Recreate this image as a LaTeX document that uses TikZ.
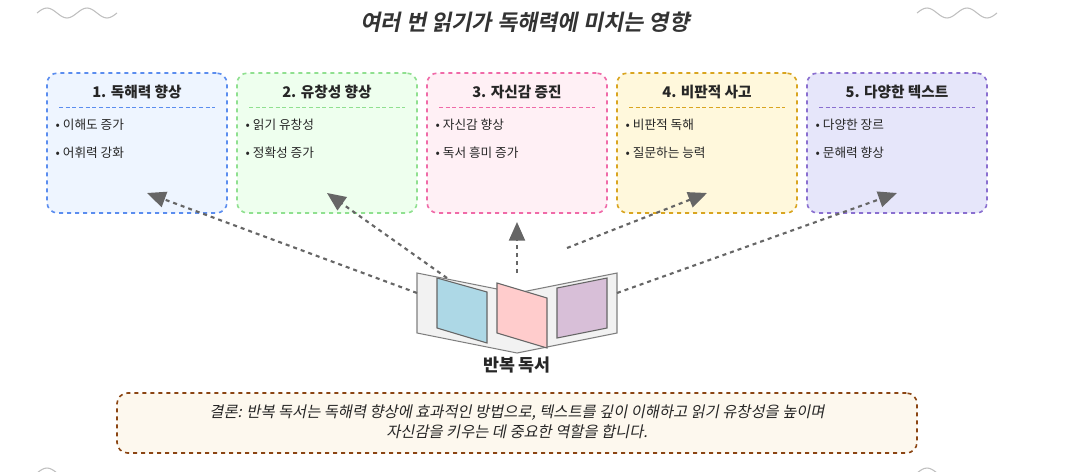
\documentclass[tikz,border=0pt]{standalone}
\usepackage{fontspec}
\setmainfont{Noto Sans CJK KR}
\newfontfamily\kri[FakeSlant=0.2]{Noto Sans CJK KR}
\newfontfamily\krbi[FakeSlant=0.2,BoldFont=*]{Noto Sans CJK KR Bold}
\usetikzlibrary{arrows.meta}
\definecolor{b1}{HTML}{5B8DEF}\definecolor{f1}{HTML}{EEF5FF}
\definecolor{b2}{HTML}{90E090}\definecolor{f2}{HTML}{EEFFEE}
\definecolor{b3}{HTML}{F06AA8}\definecolor{f3}{HTML}{FFF0F5}
\definecolor{b4}{HTML}{D9A520}\definecolor{f4}{HTML}{FFF8DC}
\definecolor{b5}{HTML}{8A6FD0}\definecolor{f5}{HTML}{E6E6FA}
\definecolor{cb}{HTML}{8B4513}\definecolor{cf}{HTML}{FDF8EE}
\tikzset{
 card/.style={draw=#1,dashed,line width=1.2pt,rounded corners=8pt,minimum width=135pt,minimum height=105pt},
 ttl/.style={font=\fontsize{11}{13}\selectfont\bfseries,text=black!85},
 itm/.style={font=\fontsize{9.5}{11}\selectfont,text=black!85,anchor=west},
 arr/.style={draw=black!60,dashed,line width=1.6pt,-{Triangle[length=14pt,width=12pt]}},
 wave/.style={draw=black!25,line width=0.8pt}
}
\begin{document}
\begin{tikzpicture}[x=0.75pt,y=-0.75pt]
\useasboundingbox (0,0) rectangle (1087,471);
\foreach \x in {37,917}{\draw[wave] (\x,13) sin (\x+10,8) cos (\x+20,13) sin (\x+30,18) cos (\x+40,13) sin (\x+50,8) cos (\x+60,13) sin (\x+70,18) cos (\x+80,13);}
\foreach \x in {37,917}{\draw[wave] (\x,473) sin (\x+10,468) cos (\x+20,473);}
\node[font=\fontsize{16.5}{18}\selectfont\krbi,text=black!80] (title) at (525,22) {여러 번 읽기가 독해력에 미치는 영향};
\foreach \i/\x/\t/\a/\b in {1/137/1. 독해력 향상/이해도 증가/어휘력 강화,2/327/2. 유창성 향상/읽기 유창성/정확성 증가,3/517/3. 자신감 증진/자신감 향상/독서 흥미 증가,4/707/4. 비판적 사고/비판적 독해/질문하는 능력,5/897/5. 다양한 텍스트/다양한 장르/문해력 향상}{
 \node[card=b\i,fill=f\i] (c\i) at (\x,143) {};
 \node[ttl] (t\i) at (\x,92) {\t};
 \draw[b\i,densely dashed,line width=0.6pt] (\x-78,107) -- (\x+78,107);
 \node[itm] (p\i) at (\x-86,125) {• \a};
 \node[itm] (q\i) at (\x-86,153) {• \b};
}
% book
\draw[black!50,fill=black!5,line width=0.8pt] (417,273) -- (517,293) -- (617,273) -- (617,333) -- (517,353) -- (417,333) -- cycle;
\draw[black!60,fill={rgb,255:red,173;green,216;blue,230},line width=0.8pt] (437,278) -- (487,292) -- (487,343) -- (437,328) -- cycle;
\draw[black!60,fill={rgb,255:red,255;green,204;blue,204},line width=0.8pt] (497,283) -- (547,298) -- (547,348) -- (497,333) -- cycle;
\draw[black!60,fill={rgb,255:red,216;green,191;blue,216},line width=0.8pt] (557,288) -- (607,278) -- (607,328) -- (557,338) -- cycle;
\coordinate (bl) at (417,293); \coordinate (bl2) at (447,278);
\coordinate (bm) at (517,273); \coordinate (br2) at (567,248);
\coordinate (br) at (617,293);
\node[font=\fontsize{13}{15}\selectfont\bfseries,text=black!85] (bk) at (517,365) {반복 독서};
\coordinate (e1) at (147,193); \coordinate (e2) at (327,193); \coordinate (e3) at (517,222);
\coordinate (e4) at (707,193); \coordinate (e5) at (897,193);
\draw[arr] (bl) -- (e1);
\draw[arr] (bl2) -- (e2);
\draw[arr] (bm) -- (e3);
\draw[arr] (br2) -- (e4);
\draw[arr] (br) -- (e5);
\node[draw=cb,fill=cf,dashed,line width=1.2pt,rounded corners=8pt,minimum width=600pt,minimum height=45pt] (con) at (517,423) {};
\node[font=\fontsize{11.5}{15}\selectfont\kri,text=black!85,align=center] (ct) at (517,422) {결론: 반복 독서는 독해력 향상에 효과적인 방법으로, 텍스트를 깊이 이해하고 읽기 유창성을 높이며\\자신감을 키우는 데 중요한 역할을 합니다.};
\end{tikzpicture}
\end{document}
